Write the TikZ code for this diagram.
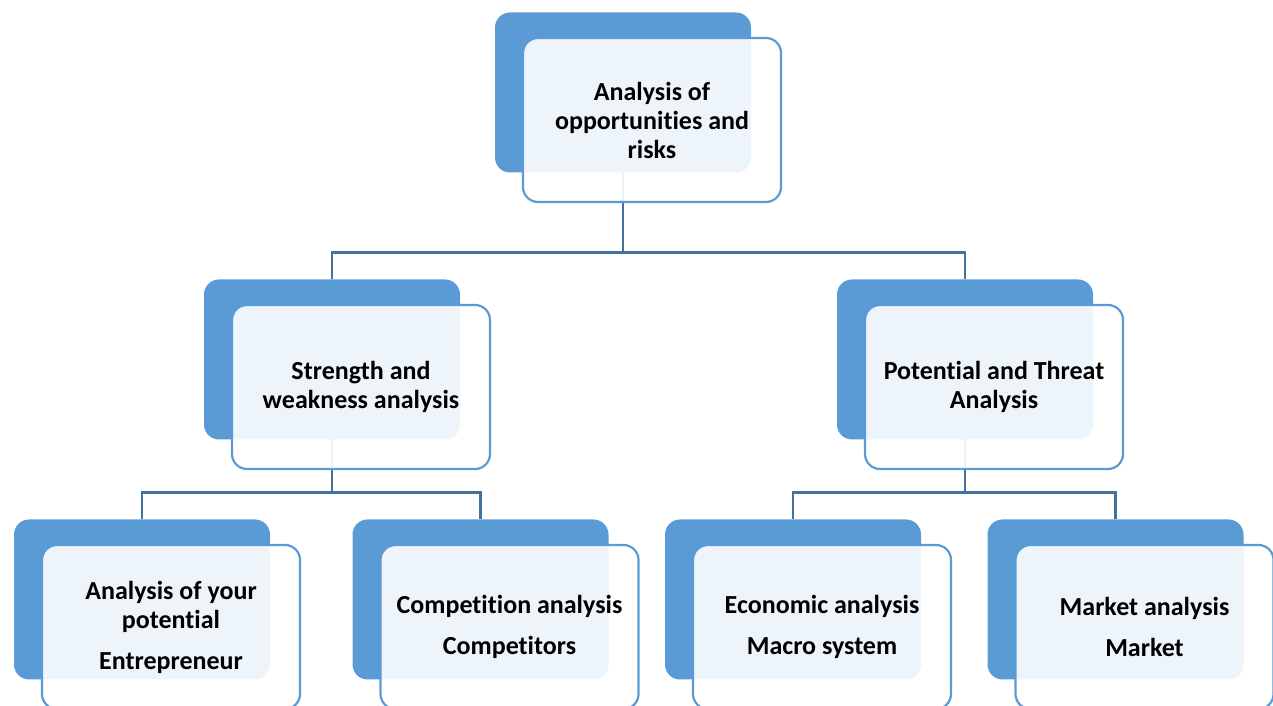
\documentclass[tikz,border=0pt]{standalone}
\usepackage{fontspec}
\setmainfont{Carlito}[Ligatures=NoCommon]
\usetikzlibrary{calc,positioning}
\definecolor{boxblue}{RGB}{91,155,213}
\definecolor{linkblue}{RGB}{65,113,156}
\begin{document}
\begin{tikzpicture}[x=1pt,y=1pt]
\tikzset{%
	back/.style = { rectangle, rounded corners=15pt, fill=boxblue, minimum width=256pt, minimum height=160pt, outer sep=0pt },
	front/.style = { rectangle, rounded corners=15pt, draw=boxblue, line width=2.2pt, fill=white, fill opacity=0.9, text opacity=1, minimum width=258pt, minimum height=164pt, outer sep=0pt, align=center, font=\fontsize{26}{29}\selectfont\bfseries },
	link/.style = { draw=linkblue, line width=2.2pt }
}
\useasboundingbox (0,0) rectangle (1273,706);
\clip (0,0) rectangle (1273,706);

% back boxes
\node(TopBack)		[back] at (623,613.5) {};
\node(SWBack)		[back, below=107pt of TopBack, xshift=-291pt] {};
\node(PTBack)		[back, below=107pt of TopBack, xshift=342pt] {};
\node(EntBack)		[back, below=80pt of SWBack, xshift=-190pt] {};
\node(CompBack)		[back, below=80pt of SWBack, xshift=148.5pt] {};
\node(EconBack)		[back, below=80pt of PTBack, xshift=-172pt] {};
\node(MarkBack)		[back, below=80pt of PTBack, xshift=150.5pt] {};

% connectors
\draw [link]	(TopBack.south) -- ++(0,-80) -| (SWBack.north);
\draw [link]	(TopBack.south) -- ++(0,-80) -| (PTBack.north);
\draw [link]	(SWBack.south) -- ++(0,-53) -| (EntBack.north);
\draw [link]	(SWBack.south) -- ++(0,-53) -| (CompBack.north);
\draw [link]	(PTBack.south) -- ++(0,-53) -| (EconBack.north);
\draw [link]	(PTBack.south) -- ++(0,-53) -| (MarkBack.north);

% front boxes
\node(Top)		[front] at ($(TopBack)+(29,-27.5)$)
						{Analysis of\\opportunities and\\risks};
\node(SW)		[front] at ($(SWBack)+(29,-27.5)$)
						{Strength and\\weakness analysis};
\node(PT)		[front] at ($(PTBack)+(29,-27.5)$)
						{Potential and Threat\\Analysis};
\node(Ent)		[front] at ($(EntBack)+(29,-27.5)$)
						{Analysis of your\\potential\\[12pt]Entrepreneur};
\node(Comp)		[front] at ($(CompBack)+(29,-27.5)$)
						{Competition analysis\\[12pt]Competitors};
\node(Econ)		[front] at ($(EconBack)+(29,-27.5)$)
						{Economic analysis\\[12pt]Macro system};
\node(Mark)		[front] at ($(MarkBack)+(29,-27.5)$)
						{Market analysis\\[12pt]Market};
\end{tikzpicture}
\end{document}
